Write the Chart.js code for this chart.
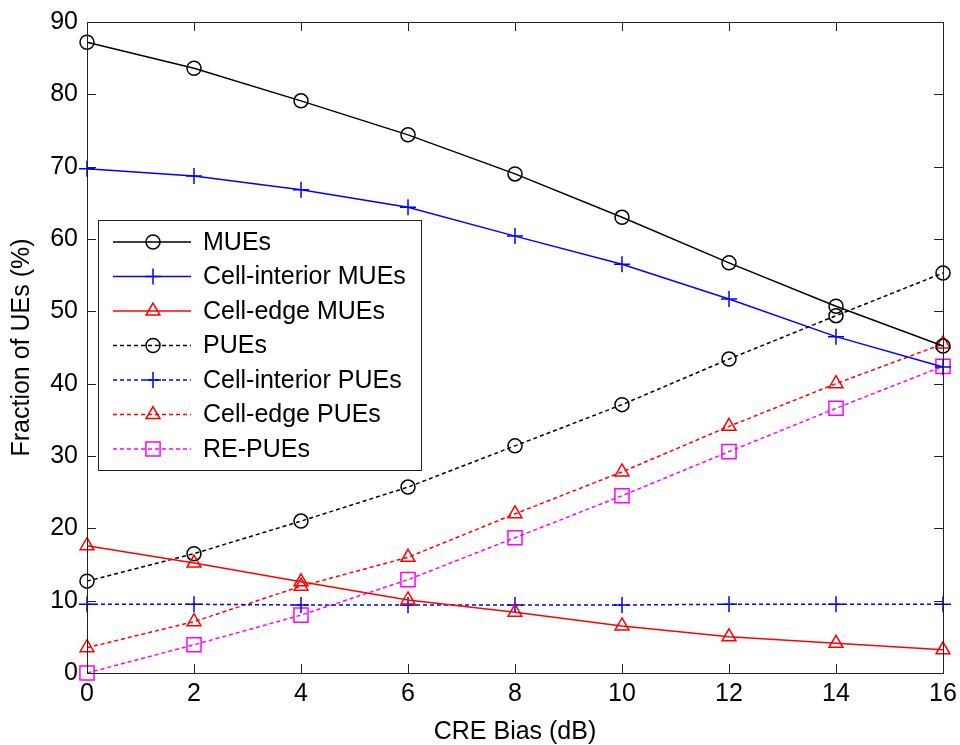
<!DOCTYPE html>
<html>
<head>
<meta charset="utf-8">
<script src="https://cdn.jsdelivr.net/npm/chart.js@4/dist/chart.umd.min.js"></script>
<style>
  html, body { margin: 0; padding: 0; background: #fff; }
  #wrap { width: 960px; height: 745px; }
</style>
</head>
<body>
<div id="wrap"><canvas id="grafico" width="960" height="745"></canvas></div>
<script>
// CRE bias values (dB)
const biasDb = [0, 2, 4, 6, 8, 10, 12, 14, 16];

// fraction of UEs (%) for each group
const mues = [87.2, 83.6, 79.1, 74.4, 69.0, 63.0, 56.7, 50.7, 45.2];
const interiorMues = [69.7, 68.7, 66.8, 64.4, 60.4, 56.5, 51.7, 46.5, 42.3];
const edgeMues = [17.6, 15.2, 12.6, 10.1, 8.4, 6.5, 5.0, 4.1, 3.2];
const pues = [12.7, 16.5, 21.0, 25.7, 31.4, 37.1, 43.4, 49.4, 55.3];
const interiorPues = [9.5, 9.5, 9.4, 9.4, 9.4, 9.4, 9.5, 9.5, 9.5];
const edgePues = [3.5, 7.1, 12.0, 16.0, 22.0, 27.8, 34.1, 40.0, 45.5];
const rePues = [0.0, 3.9, 8.0, 12.9, 18.7, 24.5, 30.6, 36.6, 42.4];

const seriesNames = ['MUEs', 'Cell-interior MUEs', 'Cell-edge MUEs', 'PUEs',
  'Cell-interior PUEs', 'Cell-edge PUEs', 'RE-PUEs'];

const FONTE = 'Arial, "Liberation Sans", sans-serif';
const TRACO = [4, 3];

function serie(nome, valores, cor, marcador, raio, tracejado) {
  return {
    label: nome,
    data: biasDb.map((x, i) => ({ x: x, y: valores[i] })),
    borderColor: cor,
    backgroundColor: 'rgba(0,0,0,0)',
    borderWidth: 1.5,
    borderDash: tracejado ? TRACO : [],
    pointStyle: marcador,
    pointRadius: raio,
    pointHoverRadius: raio,
    pointBorderColor: cor,
    pointBackgroundColor: 'rgba(0,0,0,0)',
    pointBorderWidth: 1.5,
    tension: 0,
    clip: false
  };
}

const datasets = [
  serie(seriesNames[0], mues, '#000000', 'circle', 7, false),
  serie(seriesNames[1], interiorMues, '#0000ff', 'cross', 8, false),
  serie(seriesNames[2], edgeMues, '#ff0000', 'triangle', 8, false),
  serie(seriesNames[3], pues, '#000000', 'circle', 7, true),
  serie(seriesNames[4], interiorPues, '#0000ff', 'cross', 8, true),
  serie(seriesNames[5], edgePues, '#ff0000', 'triangle', 8, true),
  serie(seriesNames[6], rePues, '#ff00ff', 'rect', 10, true)
];

// moldura com marcas de escala para dentro (estilo MATLAB)
const molduraPlugin = {
  id: 'moldura',
  afterDraw(chart) {
    const { ctx, chartArea: a, scales } = chart;
    const tam = 9;
    ctx.save();
    ctx.strokeStyle = '#222';
    ctx.lineWidth = 1;
    ctx.beginPath();
    scales.x.ticks.forEach(t => {
      const px = Math.round(scales.x.getPixelForValue(t.value)) + 0.5;
      ctx.moveTo(px, a.bottom); ctx.lineTo(px, a.bottom - tam);
      ctx.moveTo(px, a.top); ctx.lineTo(px, a.top + tam);
    });
    scales.y.ticks.forEach(t => {
      const py = Math.round(scales.y.getPixelForValue(t.value)) + 0.5;
      ctx.moveTo(a.left, py); ctx.lineTo(a.left + tam, py);
      ctx.moveTo(a.right, py); ctx.lineTo(a.right - tam, py);
    });
    ctx.stroke();
    ctx.strokeRect(Math.round(a.left) + 0.5, Math.round(a.top) + 0.5,
      Math.round(a.right - a.left), Math.round(a.bottom - a.top));
    ctx.restore();
  }
};

// legenda desenhada dentro da área do gráfico
const legendaPlugin = {
  id: 'legendaInterna',
  afterDraw(chart) {
    const { ctx } = chart;
    const box = { x: 98.5, y: 220.5, w: 323, h: 250 };
    const linha0 = 242, passo = 34.5;
    ctx.save();
    ctx.fillStyle = '#fff';
    ctx.fillRect(box.x, box.y, box.w, box.h);
    ctx.strokeStyle = '#222';
    ctx.lineWidth = 1;
    ctx.strokeRect(box.x, box.y, box.w, box.h);
    chart.data.datasets.forEach((ds, i) => {
      const y = linha0 + i * passo;
      ctx.strokeStyle = ds.borderColor;
      ctx.lineWidth = ds.borderWidth;
      ctx.setLineDash(ds.borderDash);
      ctx.beginPath();
      ctx.moveTo(113, y); ctx.lineTo(191, y);
      ctx.stroke();
      ctx.setLineDash([]);
      // marcador vazado, só o contorno
      ctx.fillStyle = 'rgba(0,0,0,0)';
      ctx.strokeStyle = ds.borderColor;
      ctx.lineWidth = ds.pointBorderWidth;
      Chart.helpers.drawPoint(ctx, {
        pointStyle: ds.pointStyle,
        radius: ds.pointRadius,
        borderWidth: ds.pointBorderWidth,
        rotation: 0
      }, 153, y);
      ctx.fillStyle = '#000';
      ctx.font = '25px ' + FONTE;
      ctx.textBaseline = 'middle';
      ctx.textAlign = 'left';
      ctx.fillText(ds.label, 203, y + 1);
    });
    ctx.restore();
  }
};

new Chart(document.getElementById('grafico'), {
  type: 'line',
  data: { datasets: datasets },
  options: {
    responsive: false,
    animation: false,
    events: [],
    layout: { padding: { top: 22, right: 17, left: 0, bottom: 0 } },
    plugins: {
      legend: { display: false },
      tooltip: { enabled: false }
    },
    scales: {
      x: {
        type: 'linear',
        min: 0,
        max: 16,
        grid: { display: false, drawTicks: false },
        border: { display: false },
        ticks: {
          stepSize: 2,
          padding: 6,
          color: '#000',
          font: { family: FONTE, size: 25 }
        },
        title: {
          display: true,
          text: 'CRE Bias (dB)',
          color: '#000',
          font: { family: FONTE, size: 25, lineHeight: 1 },
          padding: { top: 0, bottom: 0 }
        },
        afterFit(scale) {
          scale.height = 72;
          scale.paddingLeft = 0;
          scale.paddingRight = 0;
        }
      },
      y: {
        min: 0,
        max: 90,
        grid: { display: false, drawTicks: false },
        border: { display: false },
        ticks: {
          stepSize: 10,
          padding: 9,
          color: '#000',
          font: { family: FONTE, size: 25 }
        },
        title: {
          display: true,
          text: 'Fraction of UEs (%)',
          color: '#000',
          font: { family: FONTE, size: 25, lineHeight: 1 },
          padding: { top: 9.5, bottom: 0 }
        },
        afterFit(scale) {
          scale.width = 87;
          scale.paddingTop = 0;
          scale.paddingBottom = 0;
        }
      }
    }
  },
  plugins: [molduraPlugin, legendaPlugin]
});
</script>
</body>
</html>
